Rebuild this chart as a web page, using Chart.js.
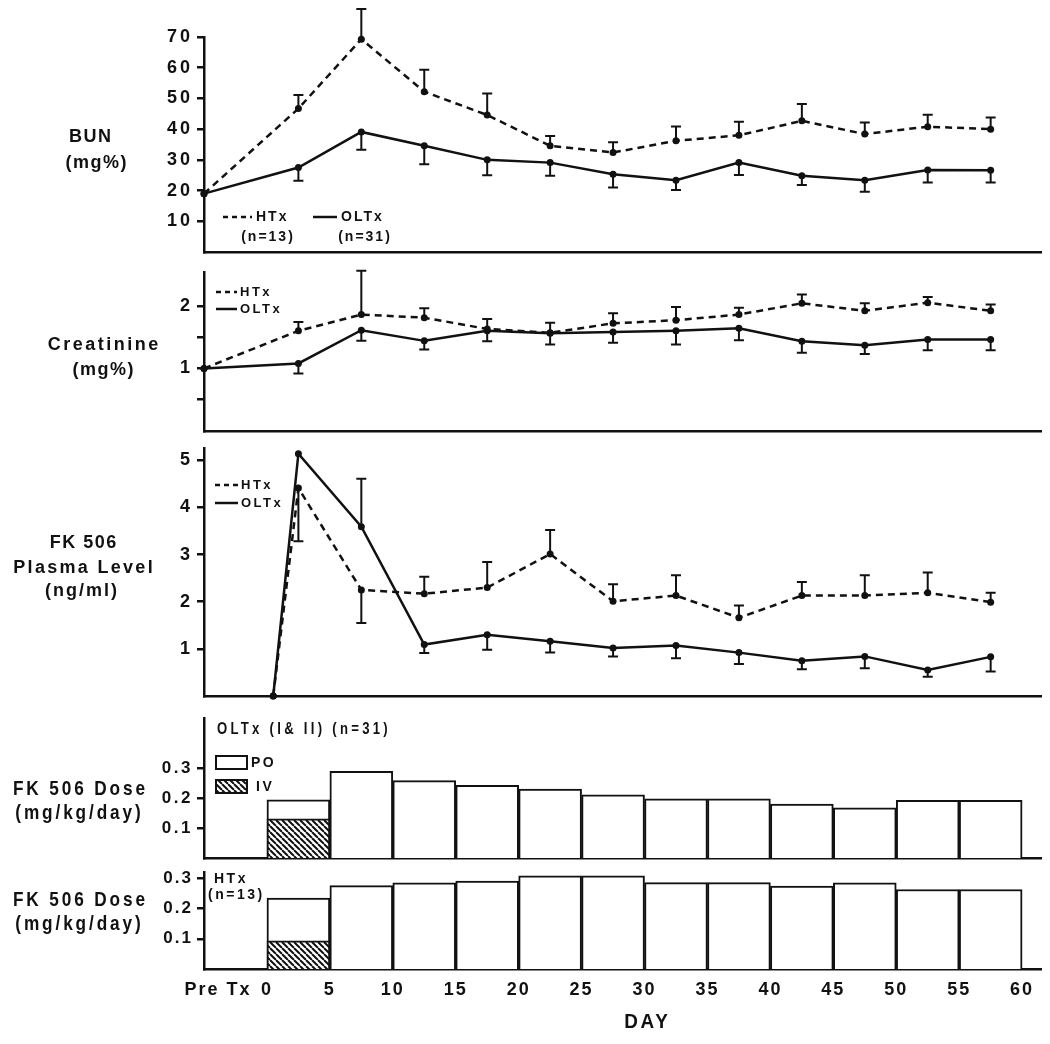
<!DOCTYPE html>
<html>
<head>
<meta charset="utf-8">
<script src="https://cdn.jsdelivr.net/npm/chart.js@4.4.1/dist/chart.umd.min.js"></script>
<style>
  html, body { margin: 0; padding: 0; background: #fff; }
  body { width: 1050px; height: 1044px; position: relative; overflow: hidden; }
  canvas { position: absolute; left: 0; }
</style>
</head>
<body>
<canvas id="cBun" width="1050" height="262" style="top:0px"></canvas>
<canvas id="cCreat" width="1050" height="178" style="top:262px"></canvas>
<canvas id="cFk" width="1050" height="266" style="top:440px"></canvas>
<canvas id="cDosisOlt" width="1050" height="158" style="top:706px"></canvas>
<canvas id="cDosisHtx" width="1050" height="180" style="top:864px"></canvas>
<script>
// ---- datos ----
const diasMedios = [2.5, 7.5, 12.5, 17.5, 22.5, 27.5, 32.5, 37.5, 42.5, 47.5, 52.5, 57.5];
const diaPreTx = -5;
const diaFkInicio = 0.5;

const bunHtx     = [19, 46.7, 69.3, 52.2, 44.6, 34.6, 32.4, 36.2, 38.0, 42.7, 38.4, 40.8, 40.0];
const bunHtxErr  = [null, 51.1, 79.1, 59.3, 51.6, 37.8, 35.7, 40.9, 42.4, 48.2, 42.2, 44.7, 43.8];
const bunOltx    = [19, 27.5, 39.1, 34.6, 30.0, 29.1, 25.3, 23.4, 29.1, 24.8, 23.4, 26.7, 26.6];
const bunOltxErr = [null, 23.2, 33.3, 28.6, 25.0, 24.8, 21.0, 20.2, 25.1, 21.8, 19.6, 22.6, 22.6];

const creatHtx     = [1.0, 1.6, 1.86, 1.81, 1.63, 1.57, 1.72, 1.77, 1.86, 2.04, 1.92, 2.05, 1.92];
const creatHtxErr  = [null, 1.74, 2.56, 1.96, 1.79, 1.73, 1.88, 1.98, 1.97, 2.18, 2.04, 2.14, 2.02];
const creatOltx    = [1.0, 1.08, 1.61, 1.44, 1.6, 1.56, 1.58, 1.60, 1.64, 1.435, 1.37, 1.46, 1.46];
const creatOltxErr = [null, 0.92, 1.44, 1.30, 1.435, 1.38, 1.41, 1.38, 1.45, 1.25, 1.23, 1.29, 1.29];

const fkHtx     = [0, 4.41, 2.25, 2.17, 2.30, 3.01, 2.01, 2.13, 1.66, 2.13, 2.13, 2.19, 1.99];
const fkHtxErr  = [null, 3.28, 1.55, 2.53, 2.84, 3.52, 2.37, 2.56, 1.92, 2.42, 2.56, 2.62, 2.19];
const fkOltx    = [0, 5.14, 3.59, 1.09, 1.30, 1.16, 1.02, 1.07, 0.92, 0.75, 0.84, 0.55, 0.83];
const fkOltxErr = [null, null, 4.61, 0.91, 0.98, 0.92, 0.84, 0.80, 0.68, 0.57, 0.59, 0.41, 0.52];

const dosisOltTotal = [0.194, 0.289, 0.258, 0.242, 0.230, 0.211, 0.197, 0.197, 0.180, 0.167, 0.192, 0.192];
const dosisHtxTotal = [0.235, 0.276, 0.285, 0.291, 0.308, 0.308, 0.286, 0.286, 0.274, 0.285, 0.263, 0.263];
const diasIV = [2.5];
const dosisOltIV = [0.131];
const dosisHtxIV = [0.093];

const ticksBun = [10, 20, 30, 40, 50, 60, 70];
const ticksCreat = [0.5, 1, 1.5, 2];
const ticksFk = [1, 2, 3, 4, 5];
const ticksDosis = [0.1, 0.2, 0.3];
const ticksDia = [-5, 0, 5, 10, 15, 20, 25, 30, 35, 40, 45, 50, 55, 60];
const etiquetaPreTx = "    Pre Tx"; // espacios: el texto queda algo a la derecha del eje

// ---- estilo ----
const INK = "#111";
const SANS = "'Liberation Sans', Arial, sans-serif";
const B18 = `bold 18px ${SANS}`;
const B16 = `bold 16px ${SANS}`;
const B14 = `bold 14px ${SANS}`;
const B13 = `bold 13px ${SANS}`;
const B21 = `bold 21px ${SANS}`;
const ESTRECHO = 0.82; // simula la letra condensada de los paneles de dosis

function patronRayado() {
  const c = document.createElement("canvas");
  c.width = c.height = 6;
  const g = c.getContext("2d");
  g.fillStyle = "#fff";
  g.fillRect(0, 0, 6, 6);
  g.strokeStyle = INK;
  g.lineWidth = 2;
  g.beginPath();
  [-6, 0, 6].forEach((k) => { g.moveTo(k, 0); g.lineTo(k + 6, 6); });
  g.stroke();
  return g.createPattern(c, "repeat");
}
const rayado = patronRayado();

// barras de error: del valor hasta errTo, con tope
const barrasError = {
  id: "barrasError",
  afterDatasetsDraw(chart) {
    const ctx = chart.ctx, y = chart.scales.y;
    chart.data.datasets.forEach((ds, i) => {
      if (!ds.errTo) return;
      const meta = chart.getDatasetMeta(i);
      ctx.save();
      ctx.strokeStyle = INK;
      ctx.lineWidth = 2;
      ctx.setLineDash([]);
      meta.data.forEach((pt, j) => {
        const fin = ds.errTo[j];
        if (fin == null) return;
        const yf = y.getPixelForValue(fin);
        ctx.beginPath();
        ctx.moveTo(pt.x, pt.y);
        ctx.lineTo(pt.x, yf);
        ctx.moveTo(pt.x - 5, yf);
        ctx.lineTo(pt.x + 5, yf);
        ctx.stroke();
      });
      ctx.restore();
    });
  },
};

function espaciado(px) {
  return { id: "espaciado", beforeDraw(chart) { chart.ctx.letterSpacing = px + "px"; } };
}

// textos sueltos (titulos de eje, leyendas) en coordenadas de pagina
function pluginTextos(top, items) {
  return {
    id: "textos",
    afterDraw(chart) {
      const ctx = chart.ctx;
      items.forEach((it) => {
        ctx.save();
        ctx.strokeStyle = INK;
        ctx.fillStyle = INK;
        if (it.line) {
          const [x1, x2, yy] = it.line;
          ctx.lineWidth = 2.5;
          ctx.setLineDash(it.dash ? [5, 4] : []);
          ctx.beginPath();
          ctx.moveTo(x1, yy - top);
          ctx.lineTo(x2, yy - top);
          ctx.stroke();
        } else if (it.box) {
          const [bx, by, bw, bh] = it.box;
          ctx.fillStyle = it.hatch ? rayado : "#fff";
          ctx.fillRect(bx, by - top, bw, bh);
          ctx.lineWidth = 2;
          ctx.strokeRect(bx, by - top, bw, bh);
        } else {
          const sp = it.sp || 0;
          ctx.font = it.f;
          ctx.letterSpacing = sp + "px";
          ctx.textBaseline = "middle";
          ctx.textAlign = it.align || "center";
          const sx = it.sx || 1;
          const dx = ctx.textAlign === "center" ? (sp / 2) * sx : 0;
          ctx.translate(it.x + dx, it.y - top);
          ctx.scale(sx, 1);
          ctx.fillText(it.t, 0, 0);
        }
        ctx.restore();
      });
    },
  };
}

function ejeX(conEtiquetas) {
  const eje = {
    type: "linear", min: -5, max: 61.5, offset: false,
    grid: { display: true, drawOnChartArea: false, drawTicks: false },
    border: { display: true, color: INK, width: 2.5 },
    ticks: { display: false },
    afterFit: (s) => { s.height = 0; s.paddingLeft = 0; s.paddingRight = 0; },
  };
  if (conEtiquetas) {
    eje.ticks = {
      display: true, autoSkip: false, maxRotation: 0, padding: 10, color: INK,
      font: { family: SANS, size: 18, weight: "bold" },
      callback: (v) => (v === diaPreTx ? etiquetaPreTx : String(v)),
    };
    eje.afterBuildTicks = (s) => { s.ticks = ticksDia.map((v) => ({ value: v })); };
    eje.afterFit = (s) => { s.height = 75; s.paddingLeft = 0; s.paddingRight = 0; };
  }
  return eje;
}

function ejeY(min, max, valores, fmt, fuente) {
  return {
    min, max,
    afterBuildTicks: (s) => { s.ticks = valores.map((v) => ({ value: v })); },
    afterFit: (s) => { s.width = 60; s.paddingTop = 0; s.paddingBottom = 0; },
    grid: { drawOnChartArea: false, drawTicks: true, tickLength: 7, color: INK, lineWidth: 2.5 },
    border: { display: true, color: INK, width: 2.5 },
    ticks: { color: INK, font: fuente, padding: 4, autoSkip: false, callback: fmt },
  };
}

function serie(xs, ys, err, discontinua) {
  return {
    data: xs.map((x, i) => ({ x, y: ys[i] })),
    errTo: err,
    borderColor: INK,
    borderWidth: 2.5,
    borderDash: discontinua ? [7, 5] : [],
    pointRadius: 3.5,
    pointBackgroundColor: INK,
    pointBorderWidth: 0,
    tension: 0,
    fill: false,
    clip: false,
  };
}

function barras(xs, ys, fondo) {
  return {
    data: xs.map((x, i) => ({ x, y: ys[i] })),
    backgroundColor: fondo,
    borderColor: INK,
    borderWidth: 2,
    barPercentage: 1,
    categoryPercentage: 1,
    grouped: false,
    clip: false,
  };
}

function crearPanel(id, top, tipo, padding, datasets, scales, textos, espacio) {
  new Chart(document.getElementById(id), {
    type: tipo,
    data: { datasets },
    options: {
      responsive: false,
      animation: false,
      devicePixelRatio: 1,
      events: [],
      layout: { padding },
      scales,
      plugins: { legend: { display: false }, tooltip: { enabled: false } },
    },
    plugins: [espaciado(espacio), barrasError, pluginTextos(top, textos)],
  });
}

const fuenteTick = { family: SANS, size: 18, weight: "bold" };
const fuenteTickDosis = { family: SANS, size: 17, weight: "bold" };
const xBun = [diaPreTx, ...diasMedios];
const xFk = [diaFkInicio, ...diasMedios];
const PAD_L = 144, PAD_R = 9;

// BUN
crearPanel("cBun", 0, "line", { left: PAD_L, right: PAD_R, top: 37, bottom: 10 }, [
  serie(xBun, bunHtx, bunHtxErr, true),
  serie(xBun, bunOltx, bunOltxErr, false),
], {
  x: ejeX(false),
  y: ejeY(0, 70, ticksBun, (v) => String(v), fuenteTick),
}, [
  { t: "BUN", x: 90, y: 137, f: B18, sp: 1.5 },
  { t: "(mg%)", x: 96, y: 163, f: B18, sp: 1.5 },
  { line: [223, 252, 217], dash: true },
  { t: "HTx", x: 256, y: 217, f: B14, sp: 2, align: "left" },
  { t: "(n=13)", x: 267, y: 237, f: B14, sp: 2 },
  { line: [313, 337, 217] },
  { t: "OLTx", x: 341, y: 217, f: B14, sp: 2, align: "left" },
  { t: "(n=31)", x: 364, y: 237, f: B14, sp: 2 },
], 3);

// Creatinina
crearPanel("cCreat", 262, "line", { left: PAD_L, right: PAD_R, top: 10, bottom: 9 }, [
  serie(xBun, creatHtx, creatHtxErr, true),
  serie(xBun, creatOltx, creatOltxErr, false),
], {
  x: ejeX(false),
  y: ejeY(0, 2.54, ticksCreat, (v) => (Number.isInteger(v) ? String(v) : ""), fuenteTick),
}, [
  { t: "Creatinine", x: 103, y: 345, f: B18, sp: 2.5 },
  { t: "(mg%)", x: 103, y: 370, f: B18, sp: 1.5 },
  { line: [216, 237, 292], dash: true },
  { t: "HTx", x: 240, y: 292, f: B13, sp: 2.5, align: "left" },
  { line: [216, 237, 309] },
  { t: "OLTx", x: 240, y: 309, f: B13, sp: 2.5, align: "left" },
], 3);

// FK 506 nivel plasmatico
crearPanel("cFk", 440, "line", { left: PAD_L, right: PAD_R, top: 8, bottom: 10 }, [
  serie(xFk, fkHtx, fkHtxErr, true),
  serie(xFk, fkOltx, fkOltxErr, false),
], {
  x: ejeX(false),
  y: ejeY(0, 5.26, ticksFk, (v) => String(v), fuenteTick),
}, [
  { t: "FK 506", x: 83, y: 543, f: B18, sp: 1.5 },
  { t: "Plasma Level", x: 83, y: 568, f: B18, sp: 2.3 },
  { t: "(ng/ml)", x: 81, y: 591, f: B18, sp: 2 },
  { line: [215, 238, 485], dash: true },
  { t: "HTx", x: 241, y: 485, f: B13, sp: 2.5, align: "left" },
  { line: [215, 238, 503] },
  { t: "OLTx", x: 241, y: 503, f: B13, sp: 2.5, align: "left" },
], 3);

// Dosis OLTx
crearPanel("cDosisOlt", 706, "bar", { left: PAD_L, right: PAD_R, top: 12, bottom: 6 }, [
  barras(diasIV, dosisOltIV, rayado),
  barras(diasMedios, dosisOltTotal, "#fff"),
], {
  x: ejeX(false),
  y: ejeY(0, 0.467, ticksDosis, (v) => v.toFixed(1), fuenteTickDosis),
}, [
  { t: "FK 506 Dose", x: 79, y: 789, f: B21, sp: 3.5, sx: ESTRECHO },
  { t: "(mg/kg/day)", x: 78, y: 813, f: B21, sp: 3.5, sx: ESTRECHO },
  { t: "OLTx (I& II) (n=31)", x: 217, y: 730, f: B16, sp: 4, align: "left", sx: ESTRECHO },
  { box: [216, 756, 31, 13] },
  { t: "PO", x: 251, y: 763, f: B14, sp: 2.5, align: "left" },
  { box: [216, 780, 31, 13], hatch: true },
  { t: "IV", x: 256, y: 787, f: B14, sp: 2.5, align: "left" },
], 2.5);

// Dosis HTx
crearPanel("cDosisHtx", 864, "bar", { left: PAD_L, right: PAD_R, top: 8, bottom: 0 }, [
  barras(diasIV, dosisHtxIV, rayado),
  barras(diasMedios, dosisHtxTotal, "#fff"),
], {
  x: ejeX(true),
  y: ejeY(0, 0.321, ticksDosis, (v) => v.toFixed(1), fuenteTickDosis),
}, [
  { t: "FK 506 Dose", x: 79, y: 900, f: B21, sp: 3.5, sx: ESTRECHO },
  { t: "(mg/kg/day)", x: 78, y: 924, f: B21, sp: 3.5, sx: ESTRECHO },
  { t: "HTx", x: 214, y: 879, f: B14, sp: 2.5, align: "left" },
  { t: "(n=13)", x: 208, y: 895, f: B14, sp: 2.5, align: "left" },
  { t: "DAY", x: 646, y: 1022, f: B21, sp: 3, sx: 0.9 },
], 2);
</script>
</body>
</html>
